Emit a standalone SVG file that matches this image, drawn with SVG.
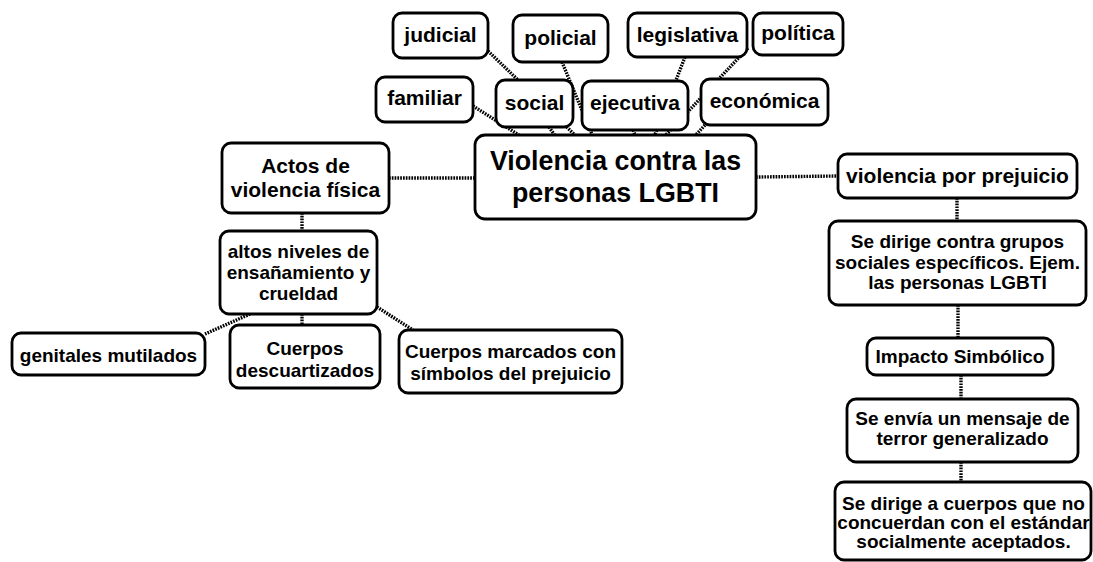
<svg xmlns="http://www.w3.org/2000/svg" width="1093" height="562" viewBox="0 0 1093 562">
<style>
.n rect{fill:#fff;stroke:#000;stroke-width:2.8}
.n text{font-family:"Liberation Sans",Arial,sans-serif;font-weight:bold;fill:#000;text-anchor:middle}
.t21{font-size:21px}
.t19{font-size:19px}
.t27{font-size:26.8px}
#connectors line{stroke:#000;stroke-width:3.4;stroke-dasharray:1.7 1.1;fill:none}
</style>
<rect width="1093" height="562" fill="#fff"/>
<g id="connectors">
<line x1="473" y1="106" x2="522" y2="137"/>
<line x1="488" y1="51" x2="577" y2="137"/>
<line x1="562" y1="62" x2="593" y2="137"/>
<line x1="549" y1="127" x2="556" y2="137"/>
<line x1="633" y1="130" x2="636" y2="137"/>
<line x1="685" y1="57" x2="654" y2="137"/>
<line x1="748" y1="48" x2="664" y2="137"/>
<line x1="705" y1="125" x2="694" y2="137"/>
<line x1="389" y1="178" x2="475" y2="178"/>
<line x1="302" y1="213" x2="302" y2="231"/>
<line x1="250" y1="314" x2="205" y2="334"/>
<line x1="302" y1="314" x2="302" y2="325"/>
<line x1="377" y1="307" x2="413" y2="330"/>
<line x1="756" y1="177" x2="838" y2="176"/>
<line x1="957" y1="198" x2="957" y2="221"/>
<line x1="958" y1="305" x2="958" y2="338"/>
<line x1="961" y1="375" x2="961" y2="399"/>
<line x1="961" y1="462" x2="961" y2="482"/>
</g>
<g id="judicial" class="n"><rect x="393" y="13" width="95" height="45" rx="9"/><text class="t21" x="440.5" y="42">judicial</text></g>
<g id="policial" class="n"><rect x="513" y="15" width="95" height="47" rx="9"/><text class="t21" x="560.5" y="45">policial</text></g>
<g id="legislativa" class="n"><rect x="628" y="13" width="119" height="44" rx="9"/><text class="t21" x="687.5" y="42">legislativa</text></g>
<g id="politica" class="n"><rect x="753" y="13" width="90" height="42" rx="9"/><text class="t21" x="798" y="40">política</text></g>
<g id="familiar" class="n"><rect x="376" y="77" width="97" height="45" rx="9"/><text class="t21" x="424.5" y="105">familiar</text></g>
<g id="social" class="n"><rect x="496" y="80" width="77" height="47" rx="9"/><text class="t21" x="534.5" y="110">social</text></g>
<g id="ejecutiva" class="n"><rect x="582" y="81" width="106" height="49" rx="9"/><text class="t21" x="635" y="110">ejecutiva</text></g>
<g id="economica" class="n"><rect x="701" y="79" width="127" height="46" rx="9"/><text class="t21" x="764.5" y="108">económica</text></g>
<g id="central" class="n"><rect x="475" y="135" width="281" height="84" rx="10"/><text class="t27" x="615.5" y="170">Violencia contra las</text><text class="t27" x="615.5" y="202">personas LGBTI</text></g>
<g id="actos" class="n"><rect x="222" y="143" width="167" height="70" rx="9"/><text class="t21" x="305.5" y="173">Actos de</text><text class="t21" x="305.5" y="197">violencia física</text></g>
<g id="altos" class="n"><rect x="220" y="231" width="157" height="83" rx="9"/><text class="t19" x="298.5" y="258">altos niveles de</text><text class="t19" x="298.5" y="279">ensañamiento y</text><text class="t19" x="298.5" y="300">crueldad</text></g>
<g id="genitales" class="n"><rect x="12" y="333" width="193" height="42" rx="9"/><text class="t19" x="108.5" y="362">genitales mutilados</text></g>
<g id="descuartizados" class="n"><rect x="230" y="325" width="150" height="63" rx="9"/><text class="t19" x="305" y="355">Cuerpos</text><text class="t19" x="305" y="377">descuartizados</text></g>
<g id="marcados" class="n"><rect x="399" y="330" width="223" height="63" rx="9"/><text class="t19" x="510.5" y="358">Cuerpos marcados con</text><text class="t19" x="510.5" y="380">símbolos del prejuicio</text></g>
<g id="prejuicio" class="n"><rect x="838" y="154" width="239" height="44" rx="9"/><text class="t21" x="957.5" y="183">violencia por prejuicio</text></g>
<g id="grupos" class="n"><rect x="829" y="221" width="257" height="84" rx="9"/><text class="t19" x="957.5" y="248">Se dirige contra grupos</text><text class="t19" x="957.5" y="269">sociales específicos. Ejem.</text><text class="t19" x="957.5" y="289">las personas LGBTI</text></g>
<g id="impacto" class="n"><rect x="867" y="338" width="186" height="37" rx="9"/><text class="t19" x="960" y="363">Impacto Simbólico</text></g>
<g id="mensaje" class="n"><rect x="847" y="399" width="231" height="63" rx="9"/><text class="t19" x="962.5" y="425">Se envía un mensaje de</text><text class="t19" x="962.5" y="445">terror generalizado</text></g>
<g id="cuerpos" class="n"><rect x="835" y="482" width="256" height="78" rx="9"/><text class="t19" x="963.5" y="510">Se dirige a cuerpos que no</text><text class="t19" x="963.5" y="529">concuerdan con el estándar</text><text class="t19" x="963.5" y="548">socialmente aceptados.</text></g>
</svg>
